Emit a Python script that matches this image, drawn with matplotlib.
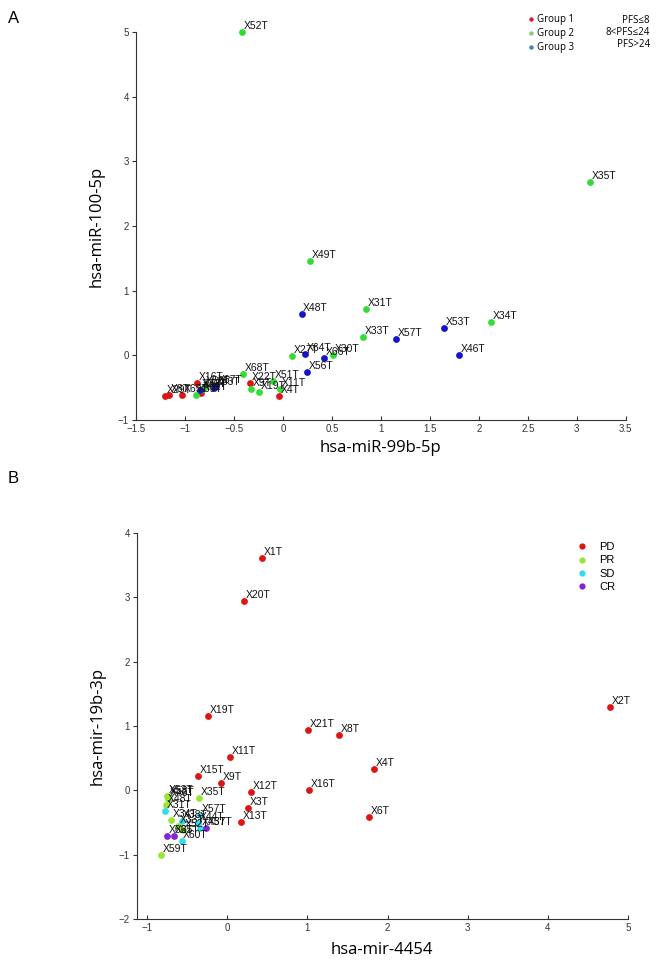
import numpy as np
import matplotlib
matplotlib.use("Agg")
import matplotlib.pyplot as plt
from matplotlib.lines import Line2D

plt.rcParams['font.family'] = ['Liberation Sans', 'DejaVu Sans']

# ---- panel A data (hsa-miR-99b-5p vs hsa-miR-100-5p) ----
a_g1_names = ["X16T", "X29T", "X8T", "X65T", "X61T", "X22T", "X4T"]
a_g1_x = [-0.88, -1.20, -1.16, -1.03, -0.84, -0.34, -0.04]
a_g1_y = [-0.42, -0.63, -0.61, -0.61, -0.58, -0.43, -0.63]

a_g2_names = ["X52T", "X35T", "X49T", "X31T", "X34T", "X33T", "X27T", "X30T",
              "X68T", "X9T", "X19T", "X51T", "X11T", "X39T", "X43T", "X58T"]
a_g2_x = [-0.42, 3.13, 0.28, 0.85, 2.12, 0.82, 0.09, 0.51,
          -0.41, -0.33, -0.24, -0.10, -0.03, -0.89, -0.84, -0.80]
a_g2_y = [5.00, 2.68, 1.46, 0.72, 0.51, 0.29, -0.01, 0.00,
          -0.29, -0.52, -0.56, -0.40, -0.52, -0.61, -0.53, -0.49]

a_g3_names = ["X48T", "X53T", "X57T", "X46T", "X64T", "X66T", "X56T",
              "X63T", "X67T", "X36T"]
a_g3_x = [0.19, 1.64, 1.15, 1.80, 0.23, 0.42, 0.25, -0.70, -0.68, -0.85]
a_g3_y = [0.64, 0.42, 0.25, 0.01, 0.02, -0.04, -0.25, -0.51, -0.47, -0.53]

a_legend = ["Group 1", "Group 2", "Group 3"]
a_legend_pfs = ["PFS\u22648", "8<PFS\u226424", "PFS>24"]

# ---- panel B data (hsa-mir-4454 vs hsa-mir-19b-3p) ----
b_pd_names = ["X1T", "X20T", "X2T", "X19T", "X21T", "X8T", "X11T", "X4T",
              "X15T", "X9T", "X12T", "X16T", "X3T", "X13T", "X6T"]
b_pd_x = [0.43, 0.21, 4.78, -0.24, 1.01, 1.39, 0.04, 1.83,
          -0.37, -0.08, 0.30, 1.02, 0.26, 0.17, 1.77]
b_pd_y = [3.62, 2.95, 1.29, 1.15, 0.94, 0.86, 0.52, 0.33,
          0.22, 0.11, -0.02, 0.01, -0.27, -0.49, -0.42]

b_pr_names = ["X35T", "X53T", "X58T", "X46T", "X48T", "X34T", "X33T", "X59T", "X52T"]
b_pr_x = [-0.35, -0.75, -0.74, -0.74, -0.76, -0.70, -0.61, -0.83, -0.55]
b_pr_y = [-0.12, -0.09, -0.10, -0.14, -0.22, -0.46, -0.56, -1.01, -0.62]

b_sd_names = ["X31T", "X57T", "X38T", "X44T", "X45T", "X60T"]
b_sd_x = [-0.78, -0.34, -0.57, -0.37, -0.34, -0.57]
b_sd_y = [-0.32, -0.38, -0.48, -0.51, -0.58, -0.78]

b_cr_names = ["X37T", "X62T", "X65T"]
b_cr_x = [-0.26, -0.75, -0.67]
b_cr_y = [-0.58, -0.71, -0.71]

b_legend = ["PD", "PR", "SD", "CR"]

# colours
red = "#dd1515"
green = "#33dd33"
blue = "#1515c8"
pr_col = "#99e633"
sd_col = "#33dcec"
cr_col = "#8424d8"


def draw_group(ax, xs, ys, names, col):
    ax.scatter(xs, ys, s=24, color=col, zorder=3, clip_on=False, linewidths=0)
    for x, y, n in zip(xs, ys, names):
        ax.annotate(n, (x, y), xytext=(1.2, 4.3), textcoords="offset points",
                    ha="left", va="center", fontsize=7.5, color="#111111",
                    zorder=4, annotation_clip=False)


def style_axes(ax):
    ax.spines['top'].set_visible(False)
    ax.spines['right'].set_visible(False)
    ax.spines['left'].set_color("#333333")
    ax.spines['bottom'].set_color("#333333")
    ax.tick_params(axis='x', direction='in', labelsize=7, length=3, colors="#333333", pad=3)
    ax.tick_params(axis='y', direction='out', labelsize=7, length=3, colors="#333333", pad=2)


fig = plt.figure(figsize=(6.62, 9.6), dpi=100)

# panel A
axA = fig.add_axes([0.2054, 0.5625, 0.740, 0.404])
draw_group(axA, a_g1_x, a_g1_y, a_g1_names, red)
draw_group(axA, a_g2_x, a_g2_y, a_g2_names, green)
draw_group(axA, a_g3_x, a_g3_y, a_g3_names, blue)
axA.set_xlim(-1.5, 3.5)
axA.set_ylim(-1, 5)
axA.set_xticks(np.arange(-1.5, 3.6, 0.5))
axA.set_xticklabels(["\u22121.5", "\u22121", "\u22120.5", "0", "0.5", "1", "1.5", "2", "2.5", "3", "3.5"])
axA.set_yticks(np.arange(-1, 6, 1))
axA.set_yticklabels(["\u22121", "0", "1", "2", "3", "4", "5"])
style_axes(axA)
axA.set_xlabel("hsa-miR-99b-5p", fontsize=12, family=["Open Sans", "DejaVu Sans"])
axA.set_ylabel("hsa-miR-100-5p", fontsize=12, family=["Open Sans", "DejaVu Sans"])
axA.xaxis.set_label_coords(0.5, -0.052)
axA.yaxis.set_label_coords(-0.063, 0.5)

# legend A
handlesA = [Line2D([], [], ls="none", marker="o", ms=3.2, mec="none", mfc=c)
            for c in ["#d8202a", "#8cc97a", "#4a80c2"]]
legA = fig.legend(handlesA, a_legend, loc="upper left", bbox_to_anchor=(0.792, 0.989),
                  frameon=False, handlelength=0.6, handletextpad=0.3,
                  labelspacing=0.3, borderaxespad=0,
                  prop={"family": ["Open Sans", "DejaVu Sans"], "size": 7})
for i, t in enumerate(a_legend_pfs):
    fig.text(0.982, 0.979 - i * 0.0125, t, ha="right", va="center", fontsize=7,
             family=["Open Sans", "DejaVu Sans"])

fig.text(0.012, 0.981, "A", fontsize=12, ha="left", va="center")

# panel B
axB = fig.add_axes([0.2065, 0.0427, 0.742, 0.402])
draw_group(axB, b_pd_x, b_pd_y, b_pd_names, red)
draw_group(axB, b_pr_x, b_pr_y, b_pr_names, pr_col)
draw_group(axB, b_sd_x, b_sd_y, b_sd_names, sd_col)
draw_group(axB, b_cr_x, b_cr_y, b_cr_names, cr_col)
axB.set_xlim(-1.13, 5)
axB.set_ylim(-2, 4)
axB.set_xticks(np.arange(-1, 6, 1))
axB.set_xticklabels(["\u22121", "0", "1", "2", "3", "4", "5"])
axB.set_yticks(np.arange(-2, 5, 1))
axB.set_yticklabels(["\u22122", "\u22121", "0", "1", "2", "3", "4"])
style_axes(axB)
axB.set_xlabel("hsa-mir-4454", fontsize=12, family=["Open Sans", "DejaVu Sans"])
axB.set_ylabel("hsa-mir-19b-3p", fontsize=12, family=["Open Sans", "DejaVu Sans"])
axB.xaxis.set_label_coords(0.5, -0.06)
axB.yaxis.set_label_coords(-0.063, 0.5)

handlesB = [Line2D([], [], ls="none", marker="o", ms=4.5, mec="none", mfc=c)
            for c in [red, pr_col, sd_col, cr_col]]
axB.legend(handlesB, b_legend, loc="upper left", bbox_to_anchor=(0.888, 0.988),
           frameon=False, fontsize=8, handlelength=0.8, handletextpad=1.2,
           labelspacing=0.3, borderaxespad=0)

fig.text(0.012, 0.502, "B", fontsize=12, ha="left", va="center")

fig.savefig("out.png", dpi=100)
